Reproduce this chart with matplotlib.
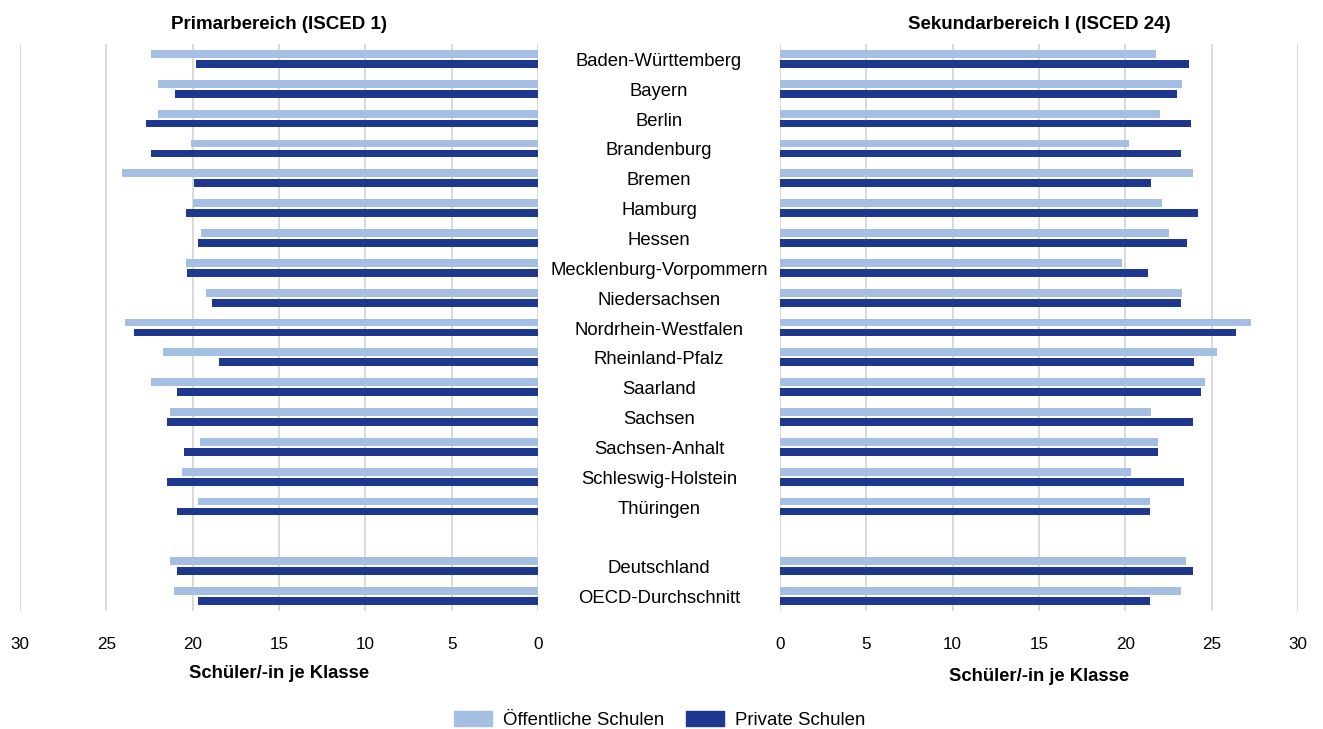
import matplotlib
matplotlib.use("Agg")
import matplotlib.pyplot as plt
import matplotlib.transforms as mtransforms
from matplotlib.patches import Patch
import numpy as np

plt.rcParams['font.family'] = ['Liberation Sans', 'DejaVu Sans']

categories = ["Baden-Württemberg", "Bayern", "Berlin", "Brandenburg", "Bremen",
              "Hamburg", "Hessen", "Mecklenburg-Vorpommern", "Niedersachsen",
              "Nordrhein-Westfalen", "Rheinland-Pfalz", "Saarland", "Sachsen",
              "Sachsen-Anhalt", "Schleswig-Holstein", "Thüringen", "",
              "Deutschland", "OECD-Durchschnitt"]

prim_public = [22.4, 22.0, 22.0, 20.1, 24.1, 20.0, 19.5, 20.4, 19.2, 23.9,
               21.7, 22.4, 21.3, 19.6, 20.6, 19.7, np.nan, 21.3, 21.1]
prim_private = [19.8, 21.0, 22.7, 22.4, 19.9, 20.4, 19.7, 20.3, 18.9, 23.4,
                18.5, 20.9, 21.5, 20.5, 21.5, 20.9, np.nan, 20.9, 19.7]
sek_public = [21.8, 23.3, 22.0, 20.2, 23.9, 22.1, 22.5, 19.8, 23.3, 27.3,
              25.3, 24.6, 21.5, 21.9, 20.3, 21.4, np.nan, 23.5, 23.2]
sek_private = [23.7, 23.0, 23.8, 23.2, 21.5, 24.2, 23.6, 21.3, 23.2, 26.4,
               24.0, 24.4, 23.9, 21.9, 23.4, 21.4, np.nan, 23.9, 21.4]

xticks = [0, 5, 10, 15, 20, 25, 30]
titles = ["Primarbereich (ISCED 1)", "Sekundarbereich I (ISCED 24)"]
xlabel = "Schüler/-in je Klasse"
legend_labels = ["Öffentliche Schulen", "Private Schulen"]

c_pub = "#A4BEE4"
c_priv = "#1F388F"
grid_c = "#D9D9D9"

W, H = 1323, 729
fig = plt.figure(figsize=(W / 100, H / 100), dpi=100)

bottom = 1 - 611 / H
height = (611 - 44) / H
axL = fig.add_axes([20 / W, bottom, 518 / W, height])
axR = fig.add_axes([780 / W, bottom, 518 / W, height])

y = np.arange(len(categories))
bh = 0.26
off = 0.167

for ax, pub, priv in [(axL, prim_public, prim_private), (axR, sek_public, sek_private)]:
    ax.barh(y - off, pub, height=bh, color=c_pub, zorder=3)
    ax.barh(y + off, priv, height=bh, color=c_priv, zorder=3)
    ax.set_ylim(len(categories) - 0.5, -0.5)
    ax.set_xticks(xticks)
    ax.set_xticklabels([str(t) for t in xticks], fontsize=12.3)
    ax.tick_params(axis='x', length=0, pad=19, colors="#000000")
    ax.set_yticks([])
    ax.grid(axis='x', color=grid_c, linewidth=1.4, zorder=0)
    for s in ax.spines.values():
        s.set_visible(False)

axL.set_xlim(30, 0)
axR.set_xlim(0, 30)

# category labels in the middle
tr = mtransforms.blended_transform_factory(fig.transFigure, axL.transData)
for i, c in enumerate(categories):
    axL.text(659 / W, i + 0.235, c, transform=tr, ha='center', va='baseline',
             fontsize=13.3, clip_on=False)

# titles
fig.text(279 / W, 1 - 29 / H, titles[0], ha='center', va='baseline',
         fontsize=13.5, fontweight='bold')
fig.text(1039 / W, 1 - 29 / H, titles[1], ha='center', va='baseline',
         fontsize=13.5, fontweight='bold')

# axis labels
fig.text(279 / W, 1 - 678 / H, xlabel, ha='center', va='baseline',
         fontsize=13.3, fontweight='bold')
fig.text(1039 / W, 1 - 681 / H, xlabel, ha='center', va='baseline',
         fontsize=13.3, fontweight='bold')

handles = [Patch(color=c_pub), Patch(color=c_priv)]
fig.legend(handles, legend_labels, loc='center', bbox_to_anchor=(660 / W, 1 - 720 / H),
           ncol=2, frameon=False, fontsize=13.4, handlelength=2.04, handleheight=0.86,
           handletextpad=0.59, columnspacing=1.18, borderpad=0.2)

fig.savefig("out.png", dpi=100)
